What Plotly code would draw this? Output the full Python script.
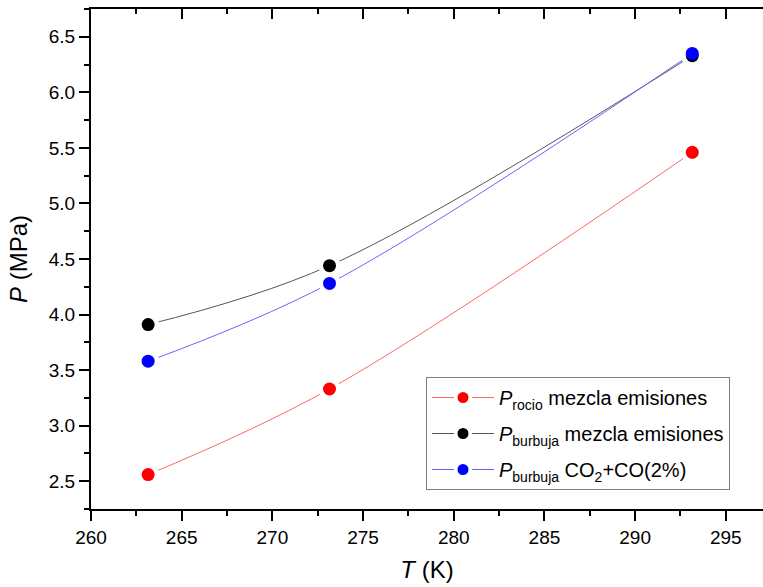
import plotly.graph_objects as go

T = [263.15, 273.15, 293.15]
p_rocio = [2.56, 3.33, 5.46]
p_burbuja = [3.91, 4.44, 6.33]
p_co2 = [3.58, 4.28, 6.35]

names = [
    "<i>P</i><sub>rocio</sub> mezcla emisiones",
    "<i>P</i><sub>burbuja</sub> mezcla emisiones",
    "<i>P</i><sub>burbuja</sub> CO<sub>2</sub>+CO(2%)",
]
colors = ["#ff0000", "#000000", "#0000ff"]
line_colors = ["#ff6666", "#555555", "#6666ff"]
series = [p_rocio, p_burbuja, p_co2]

fig = go.Figure()
# connecting spline lines
for y, lc in zip(series, line_colors):
    fig.add_trace(go.Scatter(x=T, y=y, mode="lines", showlegend=False, hoverinfo="skip",
                             line=dict(color=lc, width=1, shape="spline")))
# white halos to leave a gap between line and marker
for y in series:
    fig.add_trace(go.Scatter(x=T, y=y, mode="markers", showlegend=False, hoverinfo="skip",
                             marker=dict(color="white", size=22)))
# markers
for y, n, c in zip(series, names, colors):
    fig.add_trace(go.Scatter(x=T, y=y, mode="markers", name=n, showlegend=False,
                             marker=dict(color=c, size=13)))
# legend entries
for i, (n, c, lc) in enumerate(zip(names, colors, line_colors)):
    fig.add_trace(go.Scatter(x=[None], y=[None], mode="lines+markers", name=n,
                             legendgroup=f"g{i}",
                             line=dict(color=lc, width=1),
                             marker=dict(color=c, size=14.5, line=dict(color="white", width=3.5))))

# invisible trace for top axis
fig.add_trace(go.Scatter(x=[260], y=[2.25], xaxis="x2", mode="markers",
                         marker=dict(opacity=0), showlegend=False, hoverinfo="skip"))

font = "Liberation Sans, Arial, sans-serif"
fig.update_layout(
    width=763, height=587,
    margin=dict(l=91, r=0, t=9, b=78),
    paper_bgcolor="white", plot_bgcolor="white",
    font=dict(family=font, color="black", size=19),
    showlegend=True,
    legend=dict(x=0.4985, y=0.264, xanchor="left", yanchor="top",
                bordercolor="#808080", borderwidth=1, bgcolor="white",
                font=dict(size=20), itemwidth=62, tracegroupgap=7),
    xaxis=dict(range=[260, 297.05], showline=True, linecolor="black", linewidth=2,
               ticks="outside", ticklen=10, tickwidth=2, tickcolor="black",
               dtick=5, tick0=260, showgrid=False, zeroline=False, automargin=False,
               minor=dict(dtick=2.5, ticklen=5, tickwidth=2, ticks="outside", tickcolor="black"),
               tickfont=dict(size=19),
               title=dict(text="<i>T</i> (K)", font=dict(size=24), standoff=14)),
    xaxis2=dict(range=[260, 297.05], overlaying="x", side="top", showline=True,
                linecolor="black", linewidth=2, ticks="inside", ticklen=10, tickwidth=2,
                tickcolor="black", dtick=5, tick0=260, showticklabels=False,
                showgrid=False, zeroline=False, automargin=False,
                minor=dict(dtick=2.5, ticklen=5, tickwidth=2, ticks="inside", tickcolor="black")),
    yaxis=dict(range=[2.25, 6.75], showline=True, linecolor="black", linewidth=2,
               ticks="outside", ticklen=10, tickwidth=2, tickcolor="black",
               dtick=0.5, tick0=2.5, tickformat=".1f", showgrid=False, zeroline=False,
               automargin=False,
               minor=dict(dtick=0.25, ticklen=5, tickwidth=2, ticks="outside", tickcolor="black"),
               tickfont=dict(size=19),
               title=dict(text="<i>P</i> (MPa)", font=dict(size=24), standoff=14)),
)

fig.write_html("out.html", config={"displayModeBar": False},
               post_script="document.body.style.margin='0';document.body.style.overflow='hidden';")
